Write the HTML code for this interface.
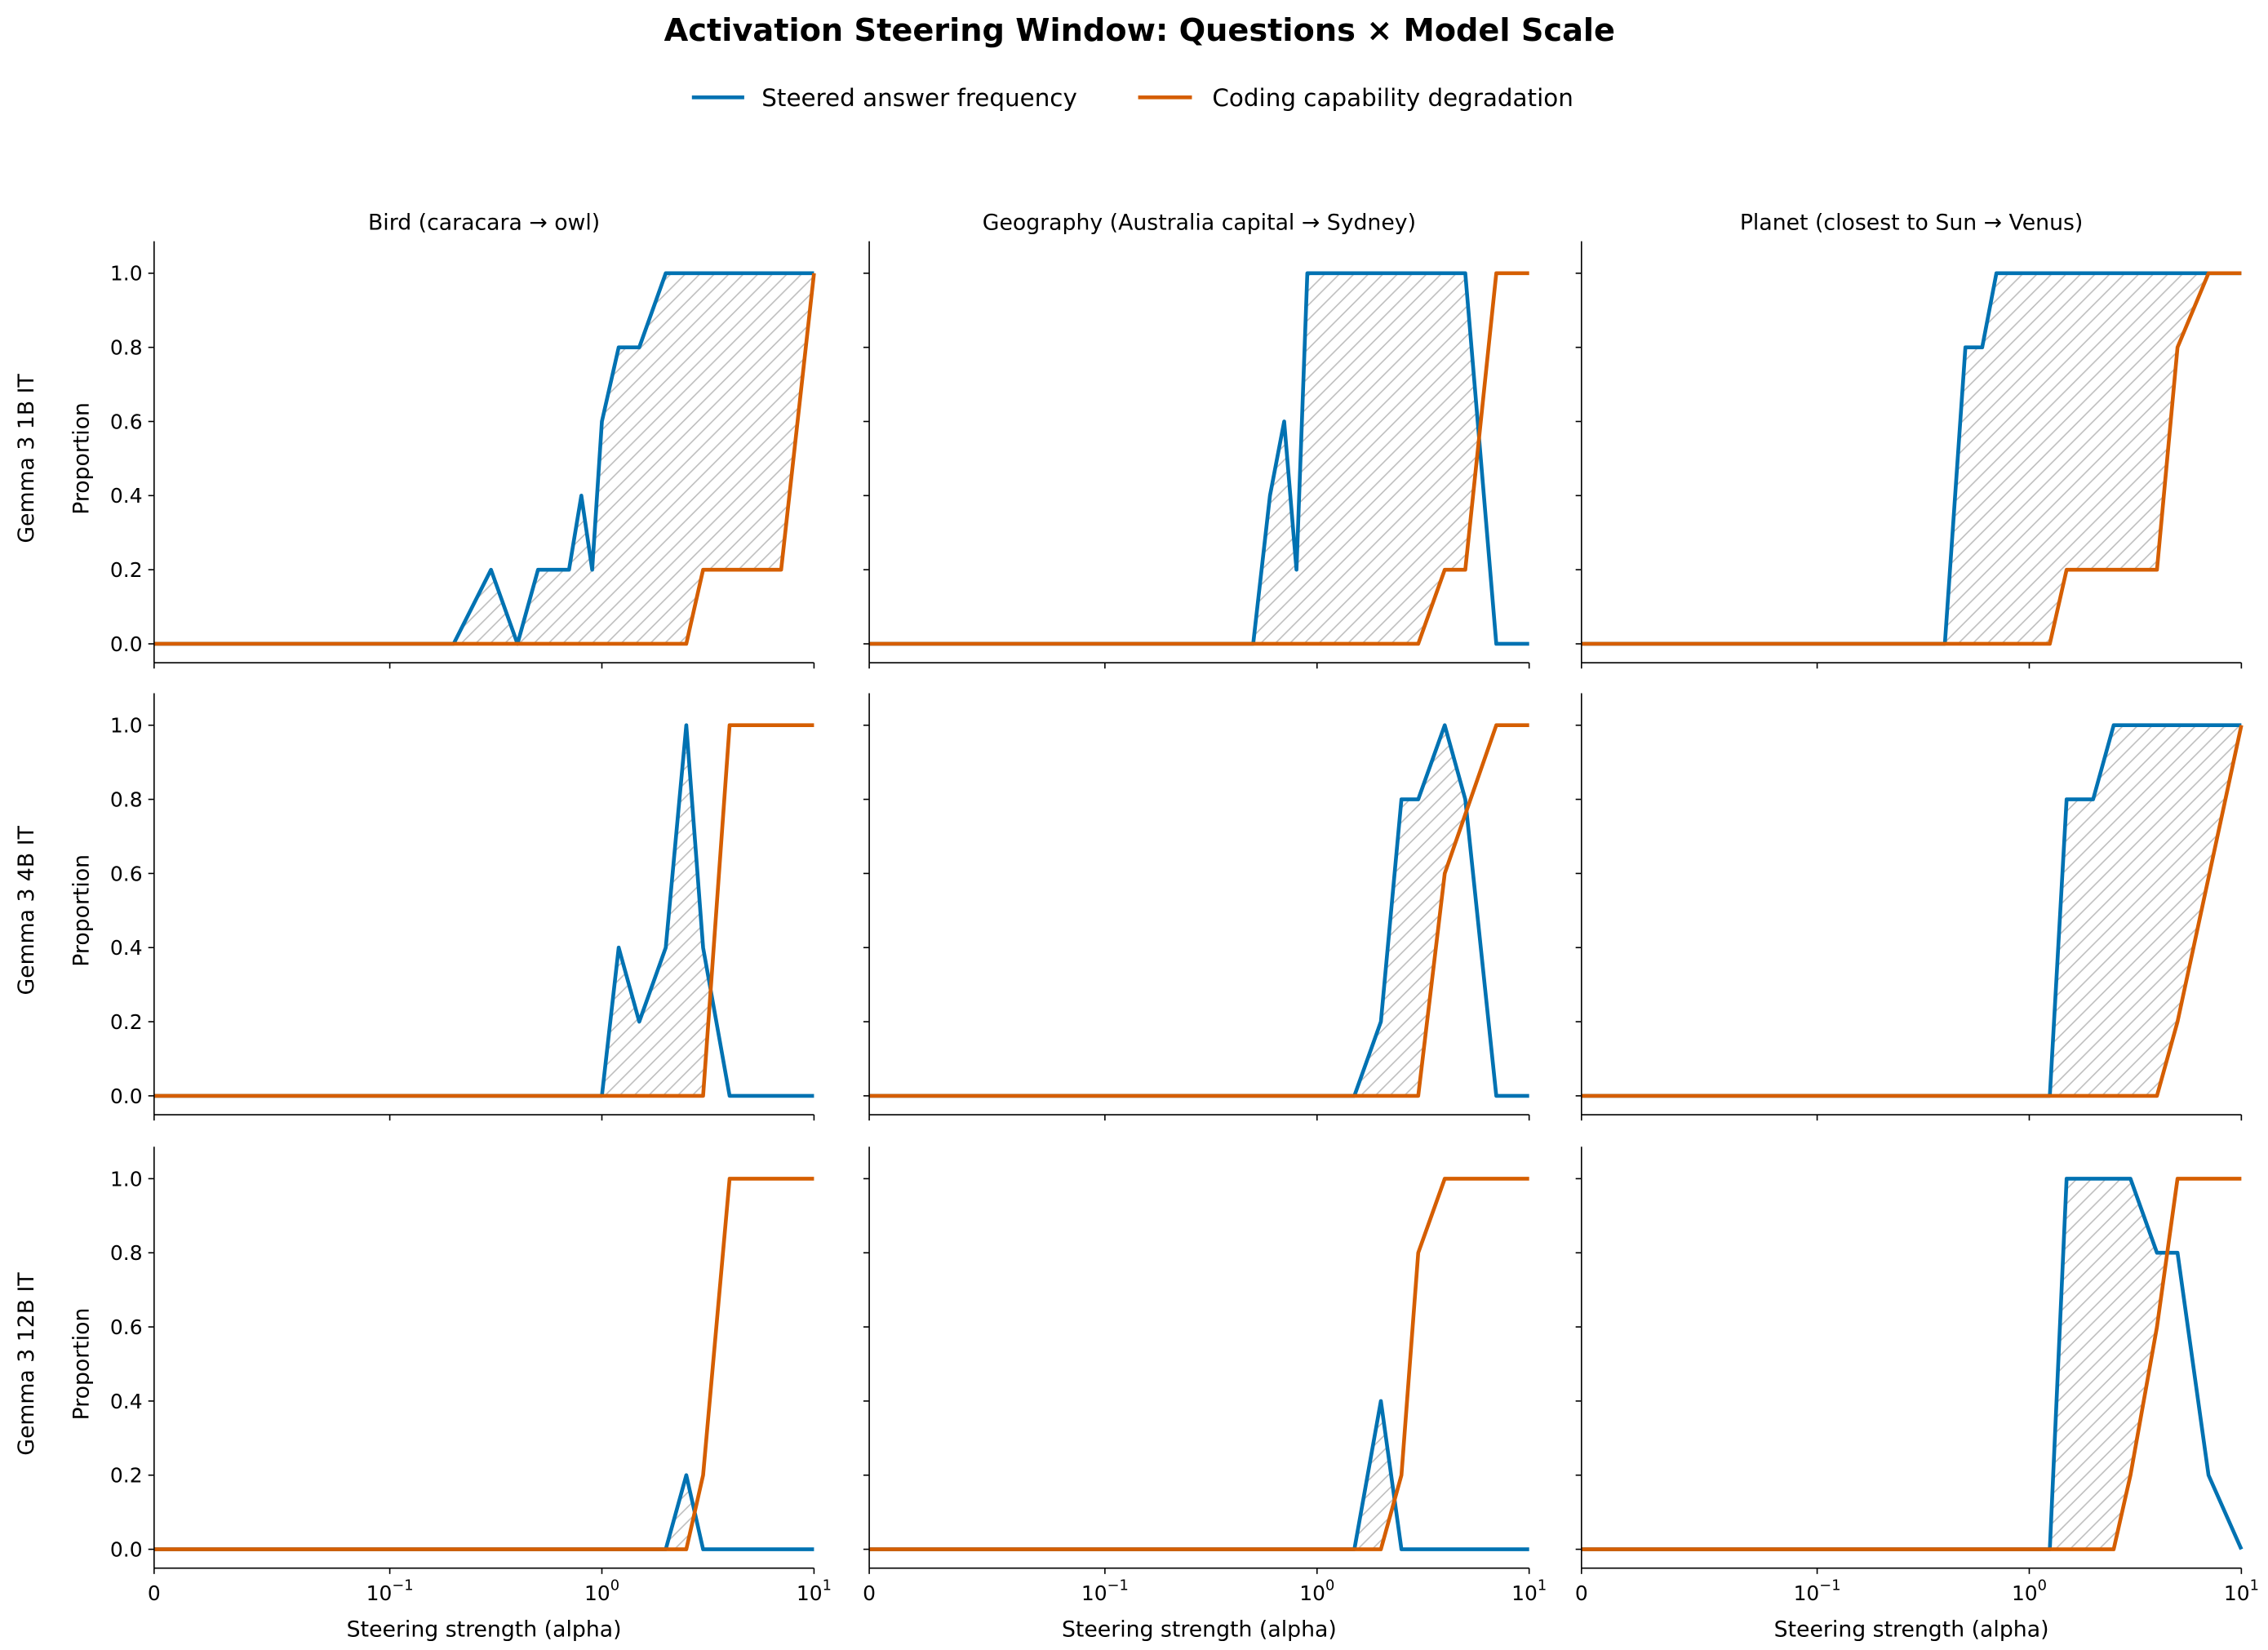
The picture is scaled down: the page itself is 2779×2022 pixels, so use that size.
<!DOCTYPE html>
<html><head><meta charset="utf-8"><style>
html,body{margin:0;padding:0;background:#fff}
svg{display:block}
text{font-family:"DejaVu Sans","Liberation Sans",sans-serif;fill:#000}
</style></head><body>
<svg id="s" width="2779" height="2022" viewBox="0 0 1560.3 1135.3" xmlns="http://www.w3.org/2000/svg">
<defs>
<pattern id="h" patternUnits="userSpaceOnUse" width="10" height="10">
<path d="M-1,11 L11,-1 M-1,1 L1,-1 M9,11 L11,9" stroke="#bdbdbd" stroke-width="0.9"/>
</pattern>
</defs>
<text x="784" y="28" font-size="21.5" font-weight="bold" text-anchor="middle">Activation Steering Window: Questions × Model Scale</text>
<line x1="476" y1="67" x2="512" y2="67" stroke="#0072B2" stroke-width="2.6"/>
<text x="524" y="73" font-size="16.5">Steered answer frequency</text>
<line x1="783" y1="67" x2="820" y2="67" stroke="#D55E00" stroke-width="2.6"/>
<text x="834" y="73" font-size="16.5">Coding capability degradation</text>
<g id="g"></g>
</svg>
<script>
const cols=[106,598,1088], rows=[188,499,811], W=454, U=255;
const titles=["Bird (caracara → owl)","Geography (Australia capital → Sydney)","Planet (closest to Sun → Venus)"];
const rowl=["Gemma 3 1B IT","Gemma 3 4B IT","Gemma 3 12B IT"];
function T(a){return a<=0.1? a/0.1*1.1111 : 1.1111+Math.log10(a/0.1);}
const TM=T(10);
const D=[
[[[0,0],[0.2,0],[0.3,0.2],[0.4,0],[0.5,0.2],[0.7,0.2],[0.8,0.4],[0.9,0.2],[1,0.6],[1.2,0.8],[1.5,0.8],[2,1],[10,1]],
 [[0,0],[2.5,0],[3,0.2],[7,0.2],[10,1]]],
[[[0,0],[0.5,0],[0.6,0.4],[0.7,0.6],[0.8,0.2],[0.9,1],[5,1],[7,0],[10,0]],
 [[0,0],[3,0],[4,0.2],[5,0.2],[7,1],[10,1]]],
[[[0,0],[0.4,0],[0.5,0.8],[0.6,0.8],[0.7,1],[10,1]],
 [[0,0],[1.25,0],[1.5,0.2],[4,0.2],[5,0.8],[7,1],[10,1]]],
[[[0,0],[1,0],[1.2,0.4],[1.5,0.2],[2,0.4],[2.5,1],[3,0.4],[4,0],[10,0]],
 [[0,0],[3,0],[4,1],[10,1]]],
[[[0,0],[1.5,0],[2,0.2],[2.5,0.8],[3,0.8],[4,1],[5,0.8],[7,0],[10,0]],
 [[0,0],[3,0],[4,0.6],[7,1],[10,1]]],
[[[0,0],[1.25,0],[1.5,0.8],[2,0.8],[2.5,1],[10,1]],
 [[0,0],[4,0],[5,0.2],[10,1]]],
[[[0,0],[2,0],[2.5,0.2],[3,0],[10,0]],
 [[0,0],[2.5,0],[3,0.2],[4,1],[10,1]]],
[[[0,0],[1.5,0],[2,0.4],[2.5,0],[10,0]],
 [[0,0],[2,0],[2.5,0.2],[3,0.8],[4,1],[10,1]]],
[[[0,0],[1.25,0],[1.5,1],[3,1],[4,0.8],[5,0.8],[7,0.2],[10,0]],
 [[0,0],[2.5,0],[3,0.2],[4,0.6],[5,1],[10,1]]]
];
let s='';
function interp(pts,x){for(let i=1;i<pts.length;i++){if(x<=pts[i][0]){const [x0,y0]=pts[i-1],[x1,y1]=pts[i];return x1==x0?y1:y0+(y1-y0)*(x-x0)/(x1-x0);}}return pts[pts.length-1][1];}
for(let r=0;r<3;r++)for(let c=0;c<3;c++){
 const x0=cols[c], y1=rows[r], y0=y1+U;
 const X=a=>x0+T(a)/TM*W, Y=v=>y0-v*U;
 const [b,o]=D[r*3+c];
 const bp=b.map(p=>[X(p[0]),Y(p[1])]), op=o.map(p=>[X(p[0]),Y(p[1])]);
 const N=600; let top=[],bot=[];
 for(let i=0;i<=N;i++){const x=x0+W*i/N;const yb=interp(bp,x),yo=interp(op,x);top.push([x,yb]);bot.push([x,Math.max(yb,yo)]);}
 const poly=top.concat(bot.reverse()).map(p=>p[0].toFixed(2)+','+p[1].toFixed(2)).join(' ');
 s+=`<polygon points="${poly}" fill="url(#h)" stroke="none"/>`;
 s+=`<polyline points="${bp.map(p=>p.join(',')).join(' ')}" fill="none" stroke="#0072B2" stroke-width="2.6" stroke-linejoin="round"/>`;
 s+=`<polyline points="${op.map(p=>p.join(',')).join(' ')}" fill="none" stroke="#D55E00" stroke-width="2.6" stroke-linejoin="round"/>`;
 const st=y1-22, sb=y0+13;
 s+=`<line x1="${x0}" y1="${st}" x2="${x0}" y2="${sb}" stroke="#000" stroke-width="0.9"/>`;
 s+=`<line x1="${x0}" y1="${sb}" x2="${x0+W}" y2="${sb}" stroke="#000" stroke-width="0.9"/>`;
 for(let k=0;k<=5;k++){const yy=Y(k*0.2);s+=`<line x1="${x0-4}" y1="${yy}" x2="${x0}" y2="${yy}" stroke="#000" stroke-width="0.9"/>`;
  if(c==0)s+=`<text x="${x0-8}" y="${yy+5}" font-size="14" text-anchor="end">${(k*0.2).toFixed(1)}</text>`;}
 const xt=[[0,'0'],[0.1,'10<tspan dy="-7" font-size="10">−1</tspan>'],[1,'10<tspan dy="-7" font-size="10">0</tspan>'],[10,'10<tspan dy="-7" font-size="10">1</tspan>']];
 for(const [a,l] of xt){const xx=X(a);s+=`<line x1="${xx}" y1="${sb}" x2="${xx}" y2="${sb+4}" stroke="#000" stroke-width="0.9"/>`;
  if(r==2)s+=`<text x="${xx}" y="${sb+22}" font-size="14" text-anchor="middle">${l}</text>`;}
 if(r==2)s+=`<text x="${x0+W/2}" y="${sb+47}" font-size="15" text-anchor="middle">Steering strength (alpha)</text>`;
 if(r==0)s+=`<text x="${x0+W/2}" y="158" font-size="15" text-anchor="middle">${titles[c]}</text>`;
 if(c==0){const cy=y1+U/2;
  s+=`<text transform="translate(61,${cy}) rotate(-90)" font-size="15" text-anchor="middle">Proportion</text>`;
  s+=`<text transform="translate(23,${cy}) rotate(-90)" font-size="15" text-anchor="middle">${rowl[r]}</text>`;}
}
document.getElementById('g').innerHTML=s;
</script>
</body></html>
